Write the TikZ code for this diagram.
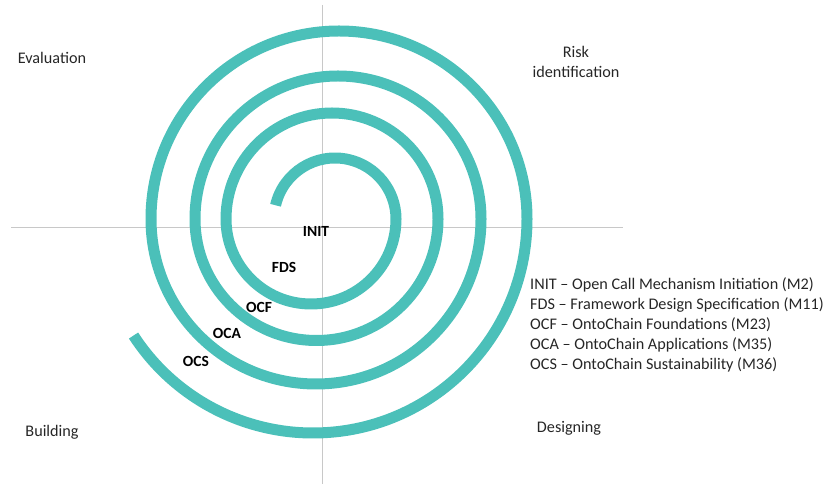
\documentclass[tikz,border=0pt]{standalone}
\usepackage{fontspec}
\setmainfont{Carlito}
\usetikzlibrary{calc}
\definecolor{spiralteal}{RGB}{75,192,185}
\definecolor{axisgrey}{RGB}{200,200,200}
\tikzset{
  axisline/.style={draw=axisgrey, line width=0.9pt},
  spiral/.style={draw=spiralteal, line width=11pt},
  phase/.style={font=\fontsize{16.2}{20}\selectfont, text=black!85, align=center},
  milestone/.style={font=\bfseries\fontsize{15.5}{18}\selectfont, inner sep=0pt},
  legend/.style={font=\fontsize{16.2}{20}\selectfont, text=black!85, align=left, anchor=west, inner sep=0pt},
}

\begin{document}
\begin{tikzpicture}[x=1pt,y=1pt]
    \useasboundingbox (0,0) rectangle (829,484);
    % quadrant axes
    \coordinate (top) at (322,479);
    \coordinate (bottom) at (322,0);
    \coordinate (left) at (11,257);
    \coordinate (right) at (623,257);
    \draw[axisline] (top) -- (bottom);
    \draw[axisline] (left) -- (right);
    % spiral: half turns of growing radius
    \coordinate (start) at ($(335,265)+(167:61)$);
    \draw[spiral] (start)
      arc[start angle=167, end angle=0, radius=61]
      arc[start angle=0, end angle=-180, radius=85]
      arc[start angle=180, end angle=0, radius=106]
      arc[start angle=0, end angle=-180, radius=121.5]
      arc[start angle=180, end angle=0, radius=143]
      arc[start angle=0, end angle=-180, radius=165]
      arc[start angle=180, end angle=0, radius=188]
      arc[start angle=0, end angle=-147, radius=214];
    % phases
    \node[phase] (eval) at (52,426) {Evaluation};
    \node[phase] (risk) at (576,422) {Risk\\identification};
    \node[phase] (build) at (52,52) {Building};
    \node[phase] (design) at (569,56) {Designing};
    % milestones on the spiral
    \node[milestone] (init) at (316,253) {INIT};
    \node[milestone] (fds) at (284,217) {FDS};
    \node[milestone] (ocf) at (259,177) {OCF};
    \node[milestone] (oca) at (227,151) {OCA};
    \node[milestone] (ocs) at (196,123) {OCS};
    \node[legend] (key) at (530,159) {INIT -- Open Call Mechanism Initiation (M2)\\
      FDS -- Framework Design Specification (M11)\\
      OCF -- OntoChain Foundations (M23)\\
      OCA -- OntoChain Applications (M35)\\
      OCS -- OntoChain Sustainability (M36)};
\end{tikzpicture}
\end{document}
